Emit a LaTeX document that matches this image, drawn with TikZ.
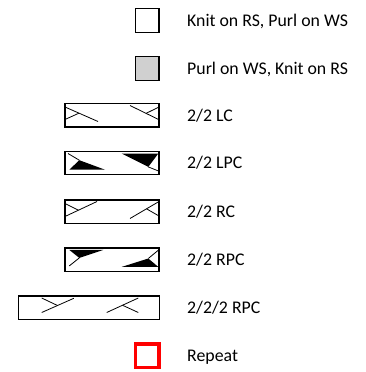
\documentclass[tikz,border=0pt]{standalone}
\usepackage{fontspec}
\setmainfont{Carlito}
\definecolor{cellgray}{RGB}{208,208,208}
\definecolor{repeatred}{RGB}{255,0,0}
\begin{document}
\begin{tikzpicture}[x=1pt,y=-1pt,
  cellbox/.style={draw=black,line width=1.2pt},
  cableline/.style={draw=black,line width=0.8pt},
  wedge/.style={fill=black},
  legendtext/.style={anchor=base west,inner sep=0pt,font=\fontsize{17.8}{20}\selectfont}]
\useasboundingbox (0,0) rectangle (366,372);

% Row 1: knit
\draw[cellbox] (135.5,8.75) rectangle (159,32.25);
\node[legendtext] (t1) at (187,26.3) {Knit on RS, Purl on WS};

% Row 2: purl
\draw[cellbox,fill=cellgray] (135.5,56.65) rectangle (159,80.15);
\node[legendtext] (t2) at (187,74.2) {Purl on WS, Knit on RS};

% Row 3: 2/2 LC
\begin{scope}[shift={(65,103.5)}]
\draw[cellbox] (0,0) rectangle (94,23.5);
\draw[cableline] (0,3.5) -- (33,18);
\draw[cableline] (0,16) -- (14,9.65);
\draw[cableline] (65,2) -- (94,16.2);
\draw[cableline] (94,3.5) -- (81,9.9);
\end{scope}
\node[legendtext] (t3) at (187,121.05) {2/2 LC};

% Row 4: 2/2 LPC
\begin{scope}[shift={(65,151.2)}]
\draw[cellbox] (0,0) rectangle (94,23.5);
\draw[cableline] (3,2.3) -- (14.3,9);
\fill[wedge] (4.3,18.5) -- (14.3,9) -- (40,18.5) -- cycle;
\fill[wedge] (56.7,2.3) -- (93.3,2.3) -- (83.3,15.7) -- cycle;
\draw[cableline] (83.3,15.7) -- (93.3,19.7);
\end{scope}
\node[legendtext] (t4) at (187,168.75) {2/2 LPC};

% Row 5: 2/2 RC
\begin{scope}[shift={(65,200)}]
\draw[cellbox] (0,0) rectangle (94,23.5);
\draw[cableline] (0,16.5) -- (32,1.5);
\draw[cableline] (0,3.5) -- (13.5,10.2);
\draw[cableline] (65,18.5) -- (94,1.5);
\draw[cableline] (81.5,8.8) -- (94,16);
\end{scope}
\node[legendtext] (t5) at (187,217.55) {2/2 RC};

% Row 6: 2/2 RPC
\begin{scope}[shift={(65,247.9)}]
\draw[cellbox] (0,0) rectangle (94,23.5);
\fill[wedge] (4.3,2) -- (38.3,2) -- (14.3,10) -- cycle;
\draw[cableline] (14.3,10) -- (4.3,18);
\fill[wedge] (56.7,19) -- (93.3,19) -- (83.3,10.6) -- cycle;
\draw[cableline] (83.3,10.6) -- (93.3,2.3);
\end{scope}
\node[legendtext] (t6) at (187,265.45) {2/2 RPC};

% Row 7: 2/2/2 RPC
\begin{scope}[shift={(18.3,296)}]
\draw[cellbox] (0,0) rectangle (141,23.5);
\draw[cableline] (23.4,16.5) -- (55.5,2.3);
\draw[cableline] (23.4,2) -- (39.2,9.5);
\draw[cableline] (88.4,16.5) -- (120,2);
\draw[cableline] (104.2,9.25) -- (120,16.5);
\end{scope}
\node[legendtext] (t7) at (187,313.55) {2/2/2 RPC};

% Row 8: repeat
\draw[draw=repeatred,line width=3.5pt] (135.5,343.75) rectangle (159,367.25);
\node[legendtext] (t8) at (187,361.3) {Repeat};
\end{tikzpicture}
\end{document}
